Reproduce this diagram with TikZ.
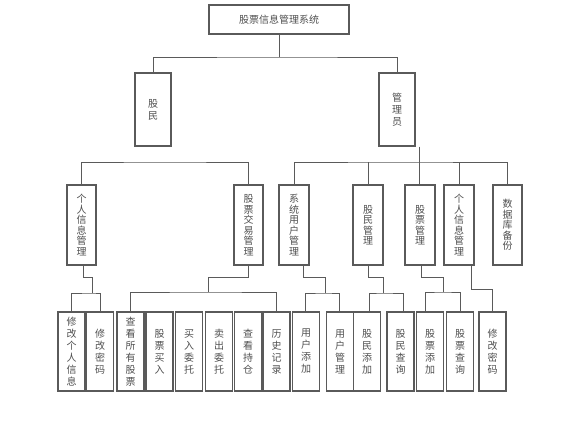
\documentclass[tikz,border=0pt]{standalone}
\usepackage{fontspec}
\newfontfamily\cjk{Noto Sans CJK SC}
\definecolor{lncol}{HTML}{5A5A5A}
\definecolor{txcol}{HTML}{505050}
\begin{document}
\begin{tikzpicture}[x=1pt,y=-1pt,
  bx/.style={draw=lncol,line width=1.1pt,inner sep=0pt,align=center,text=txcol,
             font=\cjk\fontsize{10}{12}\selectfont},
  lv2/.style={bx,font=\cjk\fontsize{10}{10.5}\selectfont,minimum height=80},
  leaf/.style={bx,minimum width=27,minimum height=79},
  cn/.style={draw=lncol,line width=0.9pt}]
\useasboundingbox (0,0) rectangle (587,433);
\fill[white] (0,0) rectangle (587,433);

% level 0 and 1
\node[bx,minimum width=140,minimum height=29] (root) at (279,19.5) {股票信息管理系统};
\node[bx,minimum width=36,minimum height=73] (gm) at (153,109.5) {股\\民};
\node[bx,minimum width=36,minimum height=73] (gly) at (397,109.5) {管\\理\\员};

% level 2
\node[lv2,minimum width=29] (p1) at (81.5,225) {个\\人\\信\\息\\管\\理};
\node[lv2,minimum width=29] (p2) at (248.5,225) {股\\票\\交\\易\\管\\理};
\node[lv2,minimum width=30] (r1) at (294,225) {系\\统\\用\\户\\管\\理};
\node[lv2,minimum width=30] (r2) at (368,225) {股\\民\\管\\理};
\node[lv2,minimum width=30] (r3) at (420,225) {股\\票\\管\\理};
\node[lv2,minimum width=30] (r4) at (459,225) {个\\人\\信\\息\\管\\理};
\node[lv2,minimum width=29] (r5) at (507.5,225) {数\\据\\库\\备\\份};

% leaves
\node[leaf] (c1) at (71.5,351.5) {修\\改\\个\\人\\信\\息};
\node[leaf] (c2) at (100,351.5) {修\\改\\密\\码};
\node[leaf] (c3) at (130.5,351.5) {查\\看\\所\\有\\股\\票};
\node[leaf] (c4) at (159.5,351.5) {股\\票\\买\\入};
\node[leaf] (c5) at (189,351.5) {买\\入\\委\\托};
\node[leaf] (c6) at (219,351.5) {卖\\出\\委\\托};
\node[leaf] (c7) at (248,351.5) {查\\看\\持\\仓};
\node[leaf] (c8) at (276.5,351.5) {历\\史\\记\\录};
\node[leaf] (c9) at (306,351.5) {用\\户\\添\\加};
\node[leaf] (c10) at (340,351.5) {用\\户\\管\\理};
\node[leaf] (c11) at (367,351.5) {股\\民\\添\\加};
\node[leaf] (c12) at (400.5,351.5) {股\\民\\查\\询};
\node[leaf] (c13) at (430,351.5) {股\\票\\添\\加};
\node[leaf] (c14) at (460,351.5) {股\\票\\查\\询};
\node[leaf] (c15) at (492.5,351.5) {修\\改\\密\\码};

% connectors level 0-1
\coordinate (b0) at (279,57);
\draw[cn] (root) -- (b0);
\draw[cn] (gm.north) |- (b0) -| (gly.north);

% level 1-2
\coordinate (b1) at (165,162);
\draw[cn] (p1.north) |- (b1) -| (p2.north);
\coordinate (b2) at (400,162);
\draw[cn] (r1.north) |- (b2) -| (r5.north);
\foreach \n in {r2,r4} \draw[cn] (\n.north) -- (\n.north |- b2);
\coordinate (gx) at ([xshift=4pt]gly.south east);
\draw[cn] (gx) -- (gx |- r3.north);

% level 2-3
\coordinate (bA) at (92,293);
\draw[cn] ([xshift=1.5pt]p1.south) -- ++(0,12) -| (bA);
\draw[cn] (c1.north) |- (bA) -| (c2.north);

\coordinate (bB) at (208,292);
\draw[cn] (p2.south) -- ++(0,12) -| (bB);
\draw[cn] (c3.north) |- (bB) -| (c8.north);

\coordinate (bC) at (325,293);
\draw[cn] ([xshift=9pt]r1.south) -- ++(0,12) -| (bC);
\draw[cn] ([xshift=-1pt]c9.north) |- (bC) -| ([xshift=-1pt]c10.north);

\coordinate (bD) at (383,293);
\draw[cn] (r2.south) -- ++(0,12) -| (bD);
\draw[cn] ([xshift=2pt]c11.north) |- (bD) -| ([xshift=2.5pt]c12.north);

\coordinate (bE) at (443,292);
\draw[cn] ([xshift=1pt]r3.south) -- ++(0,12) -| (bE);
\draw[cn] ([xshift=-5pt]c13.north) |- (bE) -| (c14.north);

\draw[cn] ([xshift=12pt]r4.south) -- ++(0,24) -| (c15.north);
\end{tikzpicture}
\end{document}
